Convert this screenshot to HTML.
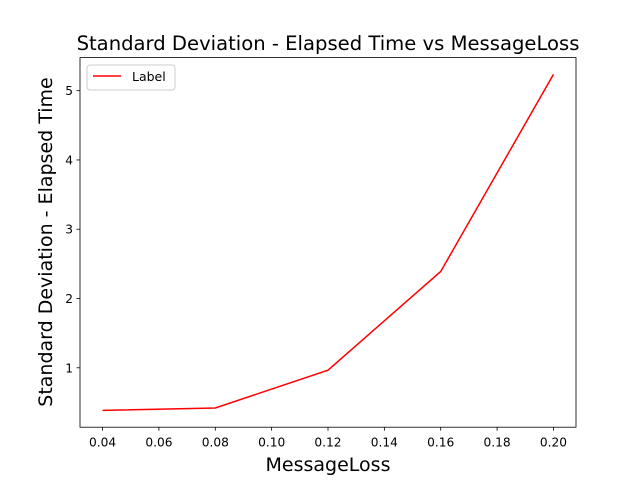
<!DOCTYPE html>
<html><head><meta charset="utf-8"><style>
body{margin:0;background:#fff;}
svg{display:block;font-family:"DejaVu Sans","Liberation Sans",sans-serif;}
</style></head><body>
<svg id="chart" width="640" height="480"></svg>
<script>
const xValues=[0.04,0.08,0.12,0.16,0.20];
const yValues=[0.385,0.42,0.965,2.39,5.235];
const xTicks=[0.04,0.06,0.08,0.10,0.12,0.14,0.16,0.18,0.20];
const xTickLabels=["0.04","0.06","0.08","0.10","0.12","0.14","0.16","0.18","0.20"];
const yTicks=[1,2,3,4,5];
const yTickLabels=["1","2","3","4","5"];

const L=80,R=576,T=57.6,B=427.2;
const xmin=Math.min(...xValues),xmax=Math.max(...xValues),xm=(xmax-xmin)*0.05;
const ymin=Math.min(...yValues),ymax=Math.max(...yValues),ym=(ymax-ymin)*0.05;
const sx=v=>L+(v-(xmin-xm))/((xmax+xm)-(xmin-xm))*(R-L);
const sy=v=>B-(v-(ymin-ym))/((ymax+ym)-(ymin-ym))*(B-T);
const svg=document.getElementById('chart');
const NS='http://www.w3.org/2000/svg';
function mk(tag,attrs,parent){const e=document.createElementNS(NS,tag);for(const k in attrs)e.setAttribute(k,attrs[k]);(parent||svg).appendChild(e);return e;}

xTicks.forEach((t,i)=>{
  const g=mk('g',{});
  
  
  mk('line',{x1:sx(t),x2:sx(t),y1:B,y2:B+3.5,stroke:'#000','stroke-width':0.8},g);
  const tx=mk('text',{x:sx(t),y:B+19.5,'text-anchor':'middle','font-size':12.2},g);
  tx.textContent=xTickLabels[i];
});
yTicks.forEach((t,i)=>{
  const g=mk('g',{});
  
  
  mk('line',{x1:L-3.5,x2:L,y1:sy(t),y2:sy(t),stroke:'#000','stroke-width':0.8},g);
  const tx=mk('text',{x:L-7,y:sy(t)+4.5,'text-anchor':'end','font-size':12.2},g);
  tx.textContent=yTickLabels[i];
});
const line=mk('polyline',{points:xValues.map((x,i)=>sx(x)+','+sy(yValues[i])).join(' '),fill:'none',stroke:'#ff0000','stroke-width':1.5});


const frame=mk('rect',{x:L,y:T,width:R-L,height:B-T,fill:'none',stroke:'#000','stroke-width':0.8});


</script>
<svg style="position:absolute;left:0;top:0" width="640" height="480">
<text x="328" y="50" text-anchor="middle" font-size="19.6" font-family="DejaVu Sans,Liberation Sans,sans-serif">Standard Deviation - Elapsed Time vs MessageLoss</text>
<text x="328" y="471" text-anchor="middle" font-size="19" font-family="DejaVu Sans,Liberation Sans,sans-serif">MessageLoss</text>
<text transform="translate(52,242) rotate(-90)" text-anchor="middle" font-size="19" font-family="DejaVu Sans,Liberation Sans,sans-serif">Standard Deviation - Elapsed Time</text>
<g>
<rect x="87" y="65" width="88" height="25" rx="3" fill="#fff" stroke="#ccc" stroke-width="1"/>
<line x1="93" x2="121" y1="76" y2="76" stroke="#ff0000" stroke-width="1.5"/>
<text x="132" y="81" font-size="12.5" font-family="DejaVu Sans,Liberation Sans,sans-serif">Label</text>
</g>
</svg>
</body></html>
